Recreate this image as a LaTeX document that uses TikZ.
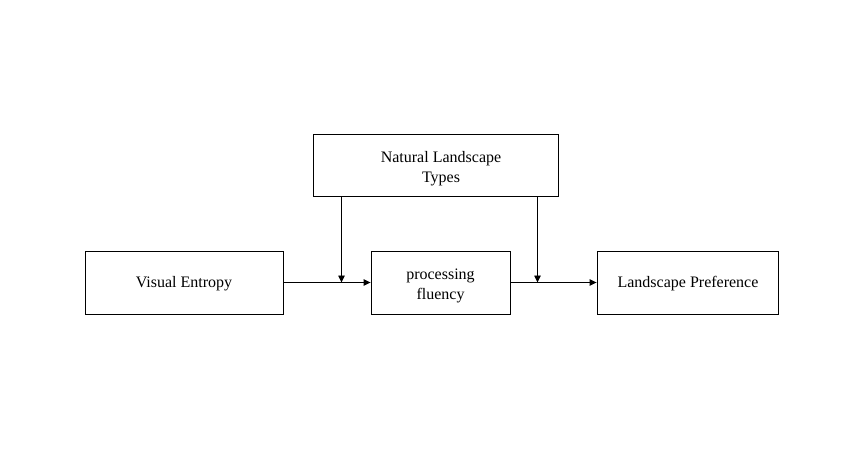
\documentclass[tikz,border=0pt]{standalone}
\usepackage{fontspec}
\setmainfont{Liberation Serif}
\usetikzlibrary{arrows.meta}
\begin{document}
\begin{tikzpicture}[x=1pt,y=-1pt,
  box/.style={draw,line width=0.9pt,inner sep=0pt},
  lbl/.style={align=center,inner sep=0pt,font=\fontsize{16}{19.5}\selectfont},
  arr/.style={line width=0.9pt,-{Triangle[length=7pt,width=6.5pt]}}]
\useasboundingbox (0,0) rectangle (853,473);
\node[box,minimum width=245pt,minimum height=62pt] (nlt) at (435.5,165.5) {};
\node[lbl] (nltl) at (441,168.5) {Natural Landscape\\Types};
\node[box,minimum width=198pt,minimum height=63pt] (ve) at (184,282.5) {};
\node[lbl] (vel) at (184,283.5) {Visual Entropy};
\node[box,minimum width=139pt,minimum height=63pt] (pf) at (440.5,282.5) {};
\node[lbl] (pfl) at (440.5,286) {processing\\fluency};
\node[box,minimum width=181pt,minimum height=63pt] (lp) at (687.5,282.5) {};
\node[lbl] (lpl) at (688,283.5) {Landscape Preference};
\coordinate (m1) at (341.5,282.5);
\coordinate (m2) at (537.5,282.5);
\draw[arr] (ve.east) -- (pf.west);
\draw[arr] (pf.east) -- (lp.west);
\draw[arr] (nlt.south -| m1) -- (m1);
\draw[arr] (nlt.south -| m2) -- (m2);
\end{tikzpicture}
\end{document}
